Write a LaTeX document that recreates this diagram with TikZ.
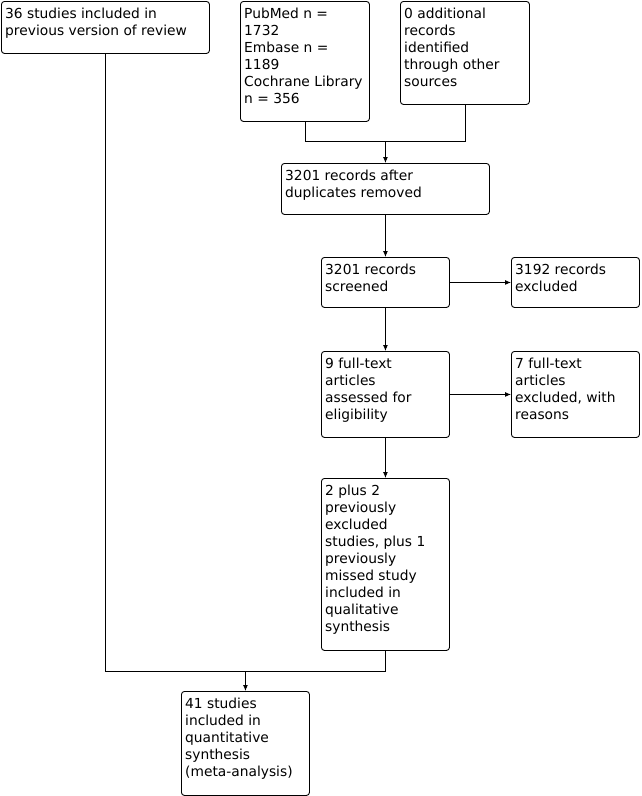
\documentclass[tikz,border=0pt]{standalone}
\usepackage{fontspec}
\setmainfont{DejaVu Sans}
\usetikzlibrary{arrows.meta,calc}
\newcommand\flowbox[6]{%
  \node[box, minimum width=#4pt, minimum height=#5pt] (#1) at (#2,#3) {};
  \node[txt] (#1t) at ($(#1.north west)+(4,7)$) {#6};
}
\begin{document}
\begin{tikzpicture}[x=1pt,y=-1pt,
  box/.style={draw, line width=0.9pt, rounded corners=3pt, inner sep=0pt, anchor=north west},
  txt/.style={anchor=north west, inner sep=0pt, align=left, font=\fontsize{13.8}{17}\selectfont},
  arr/.style={-{Latex[length=6pt,width=5pt]}, line width=0.9pt},
  ln/.style={line width=0.9pt}]
\useasboundingbox (0,0) rectangle (642,796);
\flowbox{A}{1}{1}{208}{52}{36 studies included in\\previous version of review}
\flowbox{B}{240}{1}{129}{120}{PubMed n =\\1732\\Embase n =\\1189\\Cochrane Library\\n = 356}
\flowbox{C}{400}{1}{129}{103}{0 additional\\records\\identified\\through other\\sources}
\flowbox{D}{281}{163}{208}{51}{3201 records after\\duplicates removed}
\flowbox{E}{321}{257}{128}{50}{3201 records\\screened}
\flowbox{F}{511}{257}{128}{50}{3192 records\\excluded}
\flowbox{G}{321}{351}{128}{86}{9 full-text\\articles\\assessed for\\eligibility}
\flowbox{H}{511}{351}{128}{86}{7 full-text\\articles\\excluded, with\\reasons}
\flowbox{I}{321}{478}{128}{172}{2 plus 2\\previously\\excluded\\studies, plus 1\\previously\\missed study\\included in\\qualitative\\synthesis}
\flowbox{J}{181}{691}{128}{104}{41 studies\\included in\\quantitative\\synthesis\\(meta-analysis)}
\coordinate (m1) at ($(D.north)+(0,-22)$);
\coordinate (m2) at ($(J.north)+(0,-20)$);
\draw[ln] (B.south) |- (C.south |- m1) -- (C.south);
\draw[arr] (m1) -- (D.north);
\draw[arr] (D.south) -- (E.north);
\draw[arr] (E.east) -- (F.west);
\draw[arr] (E.south) -- (G.north);
\draw[arr] (G.east) -- (H.west);
\draw[arr] (G.south) -- (I.north);
\draw[ln] (A.south) |- (I.south |- m2) -- (I.south);
\draw[arr] (m2) -- (J.north);
\end{tikzpicture}
\end{document}
